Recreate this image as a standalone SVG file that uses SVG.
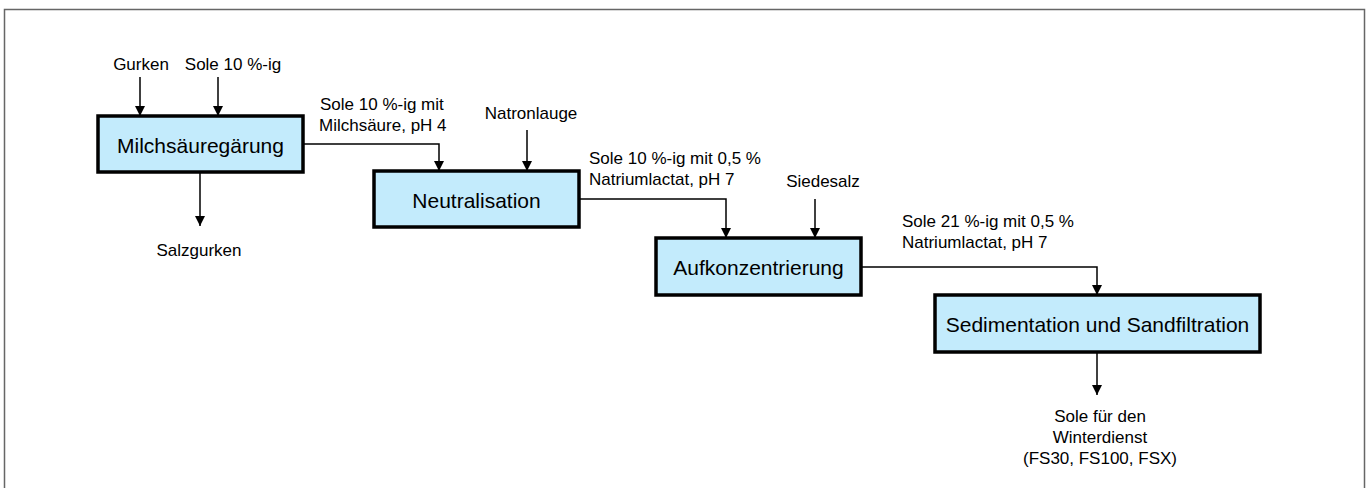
<svg xmlns="http://www.w3.org/2000/svg" width="1371" height="488" viewBox="0 0 1371 488">
<style>
.box{fill:#c3ebfc;stroke:#000;stroke-width:3.5}
.bt{font-family:"Liberation Sans",Arial,sans-serif;font-size:21px;fill:#000;text-anchor:middle}
.t{font-family:"Liberation Sans",Arial,sans-serif;font-size:17px;fill:#000}
.c{text-anchor:middle}
.ln{fill:none;stroke:#000;stroke-width:1.5}
</style>
<defs>
<marker id="ah" markerUnits="userSpaceOnUse" markerWidth="12" markerHeight="12" viewBox="0 0 12 12" refX="10" refY="6" orient="auto">
<path d="M0,1 L10,6 L0,11 Z" fill="#000"/>
</marker>
</defs>
<rect x="4.5" y="9.5" width="1360" height="500" fill="#fff" stroke="#666" stroke-width="1.5"/>
<g id="connectors">
<path class="ln" d="M140,77 V116" marker-end="url(#ah)"/>
<path class="ln" d="M218,77 V116" marker-end="url(#ah)"/>
<path class="ln" d="M200,172 V226" marker-end="url(#ah)"/>
<path class="ln" d="M303,144 H439 V171" marker-end="url(#ah)"/>
<path class="ln" d="M527,130 V171" marker-end="url(#ah)"/>
<path class="ln" d="M579,199 H726 V238" marker-end="url(#ah)"/>
<path class="ln" d="M815,199 V238" marker-end="url(#ah)"/>
<path class="ln" d="M861,267 H1097 V295" marker-end="url(#ah)"/>
<path class="ln" d="M1097,352 V395" marker-end="url(#ah)"/>
</g>
<g id="labels">
<text class="t c" x="141" y="70">Gurken</text>
<text class="t c" x="233" y="70">Sole 10 %-ig</text>
<text class="t c" x="199" y="256">Salzgurken</text>
<text class="t" x="320" y="110">Sole 10 %-ig mit</text>
<text class="t" x="319" y="131">Milchsäure, pH 4</text>
<text class="t c" x="531" y="119">Natronlauge</text>
<text class="t" x="589" y="164">Sole 10 %-ig mit 0,5 %</text>
<text class="t" x="589" y="185">Natriumlactat, pH 7</text>
<text class="t c" x="823" y="187">Siedesalz</text>
<text class="t" x="902" y="227">Sole 21 %-ig mit 0,5 %</text>
<text class="t" x="902" y="248">Natriumlactat, pH 7</text>
<text class="t c" x="1100" y="422">Sole für den</text>
<text class="t c" x="1100" y="443">Winterdienst</text>
<text class="t c" x="1100" y="464">(FS30, FS100, FSX)</text>
</g>
<g id="n1"><rect class="box" x="98" y="116" width="205" height="56"/><text class="bt" x="200.5" y="153">Milchsäuregärung</text></g>
<g id="n2"><rect class="box" x="374" y="171" width="205" height="56"/><text class="bt" x="476.5" y="208">Neutralisation</text></g>
<g id="n3"><rect class="box" x="656" y="238" width="205" height="57"/><text class="bt" x="758.5" y="275">Aufkonzentrierung</text></g>
<g id="n4"><rect class="box" x="935" y="295" width="325" height="57"/><text class="bt" x="1097.5" y="332">Sedimentation und Sandfiltration</text></g>
</svg>
